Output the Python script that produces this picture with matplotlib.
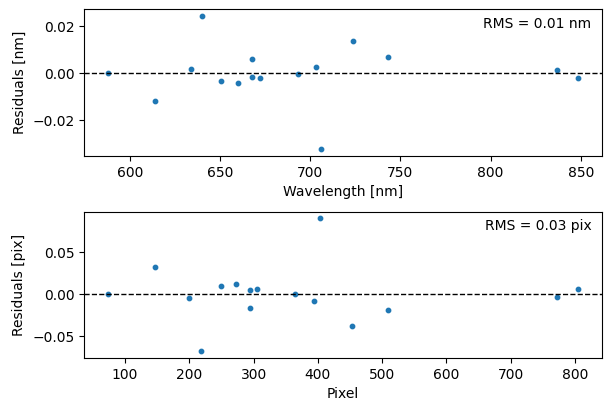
import matplotlib
matplotlib.use("Agg")
import matplotlib.pyplot as plt

# Wavelength fit residuals
wavelength = [587.7, 614.2, 633.7, 640.3, 650.8, 659.8, 668.0, 668.0,
              672.0, 693.1, 703.0, 706.1, 723.8, 743.3, 837.0, 848.6]
wave_resid = [0.0000, -0.0119, 0.0017, 0.0243, -0.0034, -0.0043, 0.0060, -0.0017,
              -0.0021, -0.0004, 0.0026, -0.0323, 0.0136, 0.0068, 0.0013, -0.0021]

# Pixel fit residuals
pixel = [72.7, 147.0, 200.1, 218.7, 248.7, 273.4, 294.7, 294.7,
         305.6, 364.7, 394.8, 404.1, 453.3, 508.5, 772.6, 805.5]
pix_resid = [0.0000, 0.0321, -0.0048, -0.0679, 0.0095, 0.0119, 0.0048, -0.0167,
             0.0060, 0.0000, -0.0083, 0.0905, -0.0381, -0.0190, -0.0036, 0.0060]

fig, (ax1, ax2) = plt.subplots(2, 1, figsize=(6.11, 4.11), dpi=100)
fig.subplots_adjust(left=0.1375, right=0.985, top=0.977, bottom=0.129, hspace=0.38)

# Top: residuals in wavelength
ax1.scatter(wavelength, wave_resid, s=10)
ax1.axhline(0, color='k', ls='--', lw=1)
ax1.set_xlabel("Wavelength [nm]")
ax1.set_ylabel("Residuals [nm]")
rms_w = 0.01
ax1.text(0.98, 0.95, f"RMS = {rms_w:.2f} nm", transform=ax1.transAxes, ha='right', va='top')

# Bottom: residuals in pixel
ax2.scatter(pixel, pix_resid, s=10)
ax2.axhline(0, color='k', ls='--', lw=1)
ax2.set_xlabel("Pixel")
ax2.set_ylabel("Residuals [pix]")
rms_p = 0.03
ax2.text(0.98, 0.95, f"RMS = {rms_p:.2f} pix", transform=ax2.transAxes, ha='right', va='top')

plt.savefig("out.png")
